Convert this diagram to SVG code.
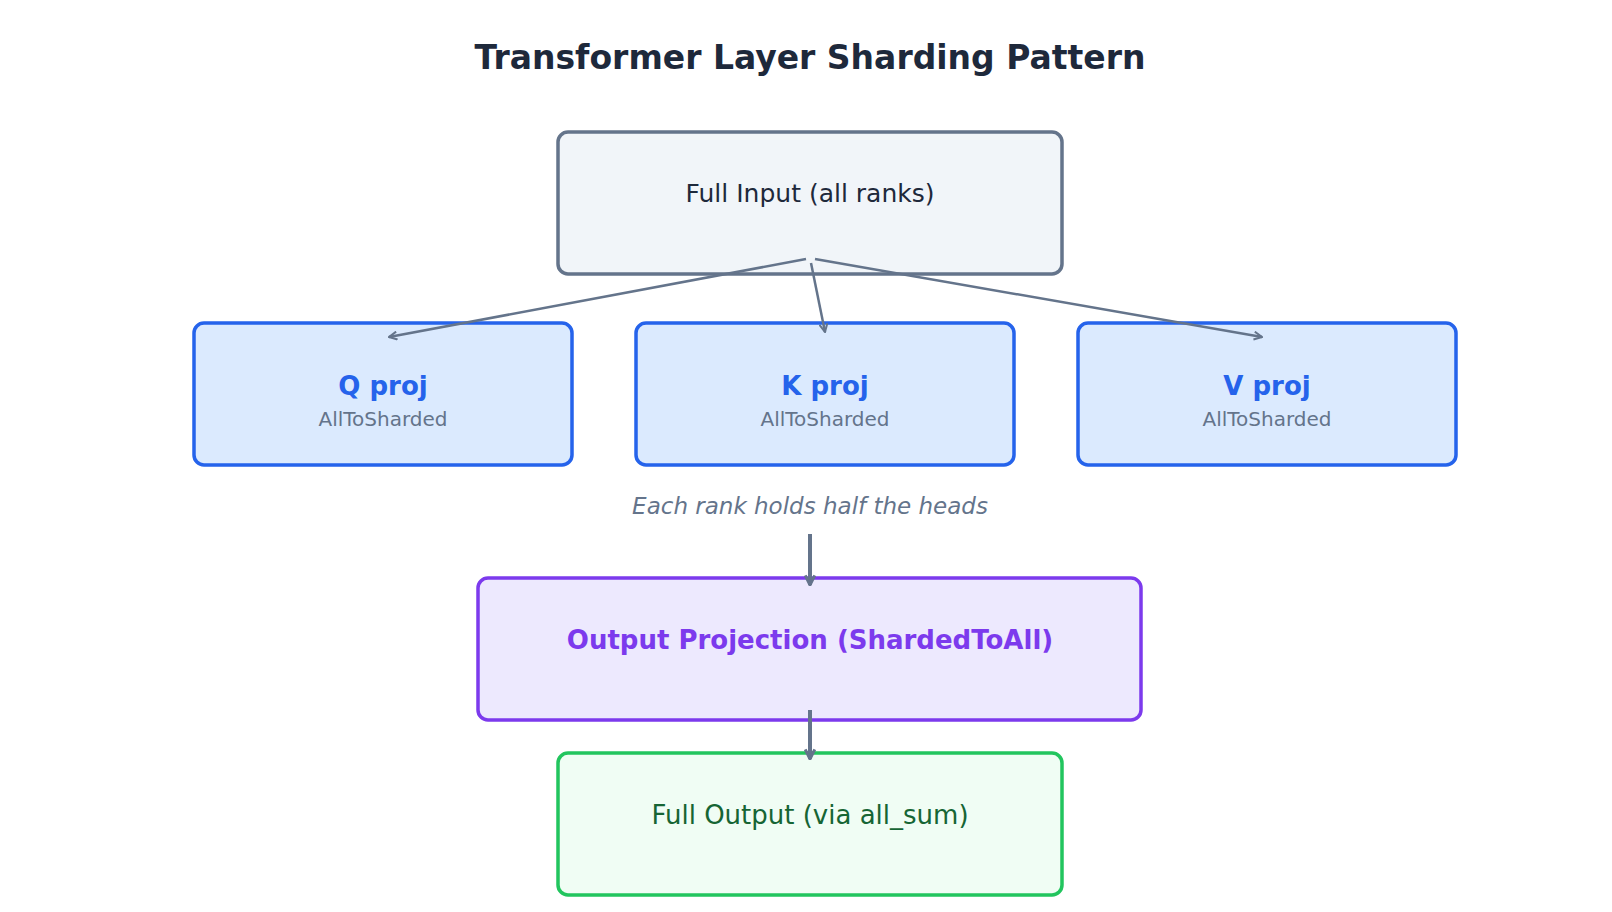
<svg xmlns="http://www.w3.org/2000/svg" width="1612" height="912" viewBox="0 0 1612 912">
<defs>
<marker id="ah" viewBox="0 0 10 10" refX="9" refY="5" markerWidth="10" markerHeight="10" markerUnits="userSpaceOnUse" orient="auto"><path d="M1,1 L9,5 L1,9" fill="none" stroke="#64748b" stroke-width="2"/></marker>
<marker id="ah2" viewBox="0 0 10 10" refX="9" refY="5" markerWidth="12" markerHeight="12" markerUnits="userSpaceOnUse" orient="auto"><path d="M1,1 L9,5 L1,9" fill="none" stroke="#64748b" stroke-width="2.5"/></marker>
</defs>
<style>
text{font-family:"DejaVu Sans","Noto Sans",sans-serif;text-anchor:middle}
.b{stroke-width:3.5}
.proj{fill:#dbeafe;stroke:#2563eb}
.pt{font-size:26px;font-weight:bold;fill:#2563eb}
.ps{font-size:20px;fill:#64748b}
.c{stroke:#64748b;fill:none}
</style>
<rect width="1612" height="912" fill="#fff"/>
<text x="810" y="69" font-size="33" font-weight="bold" fill="#1e293b">Transformer Layer Sharding Pattern</text>
<g id="input"><rect x="558" y="132" width="504" height="142" rx="10" fill="#f1f5f9" stroke="#64748b" class="b"/><text x="810" y="202" font-size="25" fill="#1e293b">Full Input (all ranks)</text></g>
<g id="q"><rect x="194" y="323" width="378" height="142" rx="10" class="proj b"/><text x="383" y="395" class="pt">Q proj</text><text x="383" y="426" class="ps">AllToSharded</text></g>
<g id="k"><rect x="636" y="323" width="378" height="142" rx="10" class="proj b"/><text x="825" y="395" class="pt">K proj</text><text x="825" y="426" class="ps">AllToSharded</text></g>
<g id="v"><rect x="1078" y="323" width="378" height="142" rx="10" class="proj b"/><text x="1267" y="395" class="pt">V proj</text><text x="1267" y="426" class="ps">AllToSharded</text></g>
<text x="810" y="514" font-size="23" font-style="italic" fill="#64748b">Each rank holds half the heads</text>
<g id="outproj"><rect x="478" y="578" width="663" height="142" rx="10" fill="#ede9fe" stroke="#7c3aed" class="b"/><text x="810" y="649" font-size="26" font-weight="bold" fill="#7c3aed">Output Projection (ShardedToAll)</text></g>
<g id="output"><rect x="558" y="753" width="504" height="142" rx="10" fill="#f0fdf4" stroke="#22c55e" class="b"/><text x="810" y="824" font-size="26" fill="#166534">Full Output (via all_sum)</text></g>
<g id="connectors">
<line x1="806" y1="259" x2="389" y2="337" class="c" stroke-width="2.5" marker-end="url(#ah)"/>
<line x1="811" y1="263" x2="825" y2="332" class="c" stroke-width="2.5" marker-end="url(#ah)"/>
<line x1="815" y1="259" x2="1262" y2="337" class="c" stroke-width="2.5" marker-end="url(#ah)"/>
<line x1="810" y1="534" x2="810" y2="585" class="c" stroke-width="4" marker-end="url(#ah2)"/>
<line x1="810" y1="710" x2="810" y2="759" class="c" stroke-width="4" marker-end="url(#ah2)"/>
</g>
</svg>
